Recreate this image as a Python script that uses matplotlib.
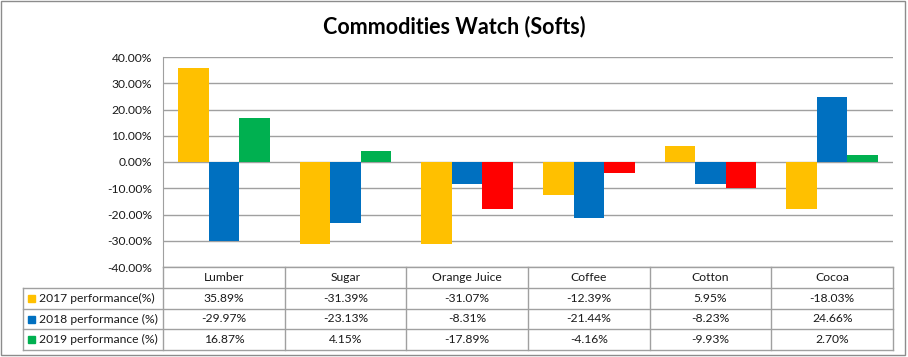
#!/usr/bin/env python3

import matplotlib.pyplot as plt
import matplotlib.transforms as mtransforms
from matplotlib.lines import Line2D
from matplotlib.patches import Rectangle
import numpy as np

plt.rcParams['font.family'] = ['Lato', 'DejaVu Sans']

categories = ['Lumber', 'Sugar', 'Orange Juice', 'Coffee', 'Cotton', 'Cocoa']
series_names = ['2017 performance(%)', '2018 performance (%)', '2019 performance (%)']
perf_2017 = [35.89, -31.39, -31.07, -12.39, 5.95, -18.03]
perf_2018 = [-29.97, -23.13, -8.31, -21.44, -8.23, 24.66]
perf_2019 = [16.87, 4.15, -17.89, -4.16, -9.93, 2.70]
y_ticks = [-40, -30, -20, -10, 0, 10, 20, 30, 40]

# colour for positive values, colour for negatives
COLORS = [('#FFC000', '#FFC000'), ('#0070C0', '#0070C0'), ('#00B050', '#FF0000')]
GRID = '#A0A0A0'
TXT = '#1A1A1A'
FS = 8.7
W, H = 908, 357


def fx(px):
    return px / W


def fy(py):
    return 1 - py / H


fig = plt.figure(figsize=(W / 100, H / 100), dpi=100)
fig.patches.append(Rectangle((fx(1), fy(355)), fx(904), (354) / H,
                             transform=fig.transFigure, fill=False,
                             edgecolor='#8C8C8C', lw=1))

plot_left, plot_right, plot_top, plot_bottom = 163, 893, 57, 267
ax = fig.add_axes([fx(plot_left), fy(plot_bottom),
                   (plot_right - plot_left) / W, (plot_bottom - plot_top) / H])

x = np.arange(len(categories))
bw = 0.2515
series = [perf_2017, perf_2018, perf_2019]
for i, vals in enumerate(series):
    pos_c, neg_c = COLORS[i]
    cols = [pos_c if v >= 0 else neg_c for v in vals]
    ax.bar(x + (i - 1) * bw, vals, bw, color=cols, zorder=3)

ax.set_xlim(-0.5, len(categories) - 0.5)
ax.set_ylim(-40, 40)
ax.set_yticks(y_ticks)
ax.set_yticklabels([f"{v:.2f}%" for v in y_ticks], fontsize=FS, color=TXT)
ax.tick_params(axis='y', length=0, pad=8)
ax.set_xticks([])
ax.grid(axis='y', color=GRID, lw=1, zorder=0)
for s in ['top', 'right', 'bottom']:
    ax.spines[s].set_visible(False)
ax.spines['left'].set_color(GRID)

fig.text(0.5, fy(27), 'Commodities Watch (Softs)', ha='center', va='center',
         fontsize=15.5, fontweight='bold', color='black')

# data table under the plot
row_y = [267, 288, 308.7, 329.3, 350]
legend_left = 23
col_w = (plot_right - plot_left) / len(categories)
col_x = [plot_left + k * col_w for k in range(len(categories) + 1)]

def hline(y, x0, x1):
    fig.lines.append(Line2D([fx(x0), fx(x1)], [fy(y), fy(y)],
                            transform=fig.transFigure, color=GRID, lw=1))

def vline(x0, y0, y1):
    fig.lines.append(Line2D([fx(x0), fx(x0)], [fy(y0), fy(y1)],
                            transform=fig.transFigure, color=GRID, lw=1))

hline(row_y[0], plot_left, plot_right)
for y in row_y[1:]:
    hline(y, legend_left, plot_right)
vline(legend_left, row_y[1], row_y[-1])
for cx in col_x:
    vline(cx, row_y[0], row_y[-1])

blend = mtransforms.blended_transform_factory(ax.transData, fig.transFigure)
for j, cat in enumerate(categories):
    yc = fy((row_y[0] + row_y[1]) / 2)
    fig.text(x[j], yc, cat, transform=blend, ha='center', va='center',
             fontsize=FS, color=TXT)
    for i, vals in enumerate(series):
        yc = fy((row_y[i + 1] + row_y[i + 2]) / 2)
        fig.text(x[j], yc, f"{vals[j]:.2f}%", transform=blend, ha='center',
                 va='center', fontsize=FS, color=TXT)

for i, name in enumerate(series_names):
    yc = (row_y[i + 1] + row_y[i + 2]) / 2
    fig.patches.append(Rectangle((fx(28), fy(yc + 3.5)), 7 / W, 7 / H,
                                 transform=fig.transFigure,
                                 color=COLORS[i][0]))
    fig.text(fx(39), fy(yc), name, ha='left', va='center', fontsize=FS,
             color=TXT)

fig.savefig('out.png', dpi=100)
